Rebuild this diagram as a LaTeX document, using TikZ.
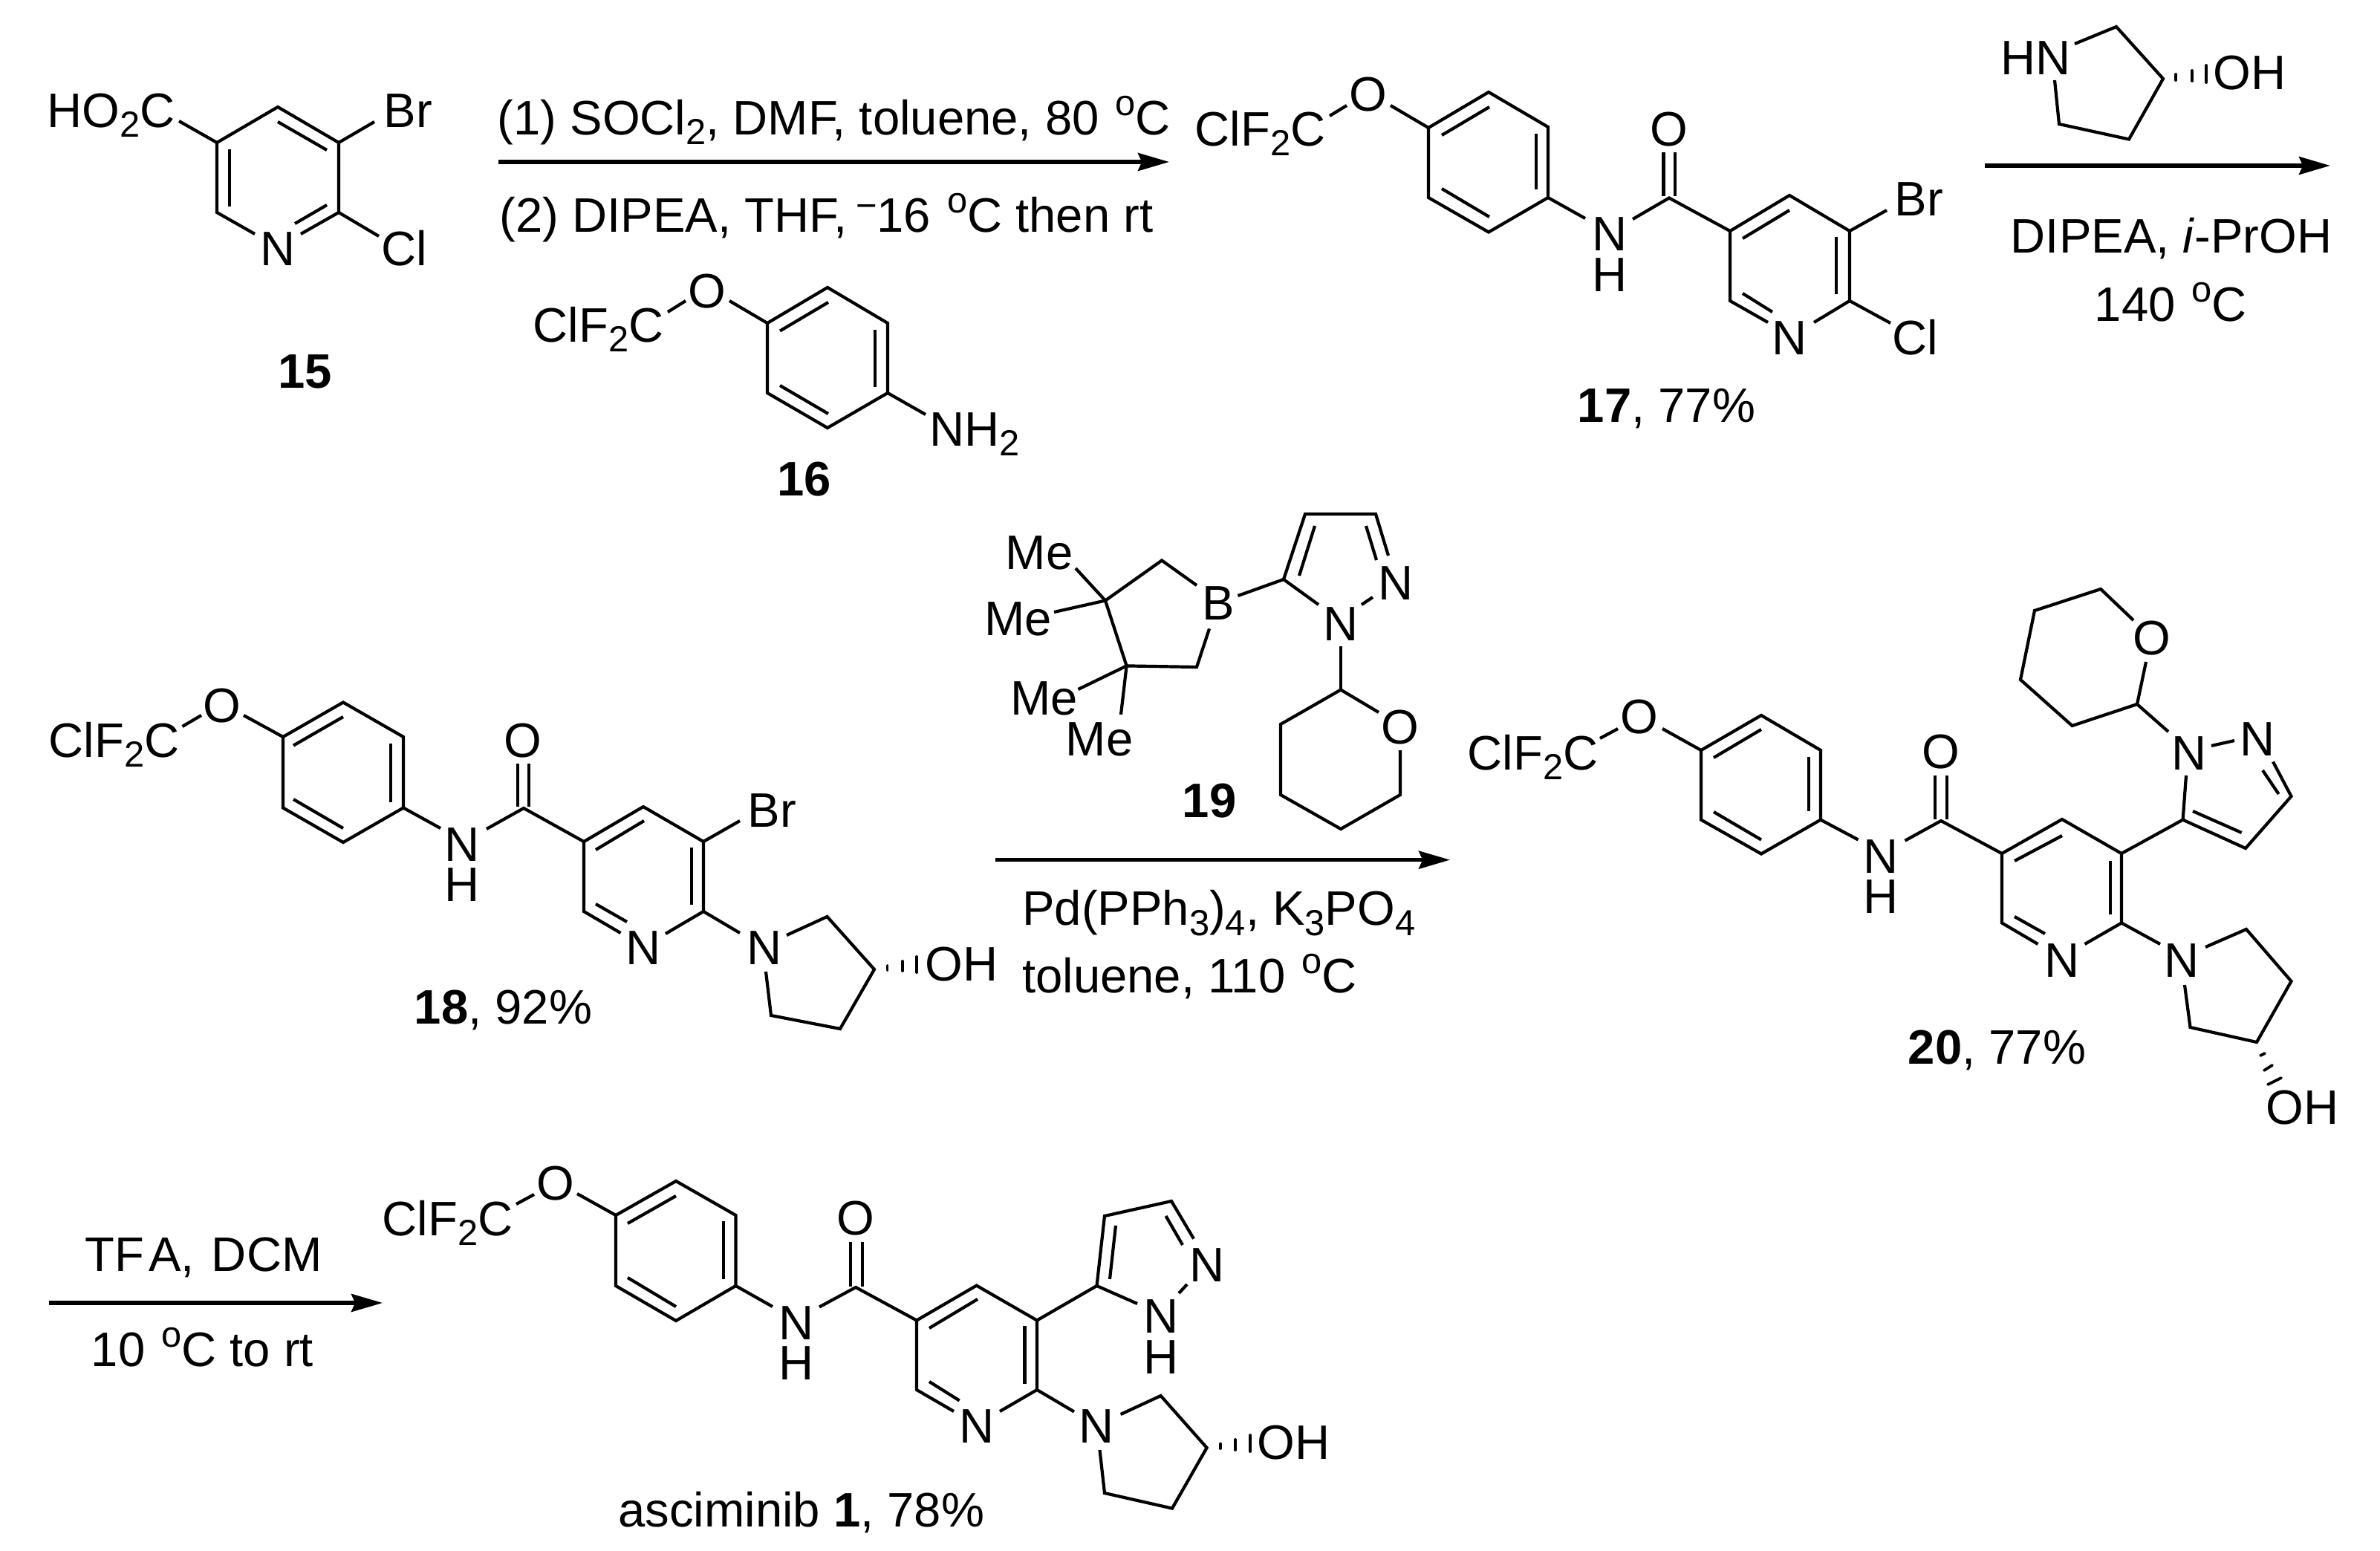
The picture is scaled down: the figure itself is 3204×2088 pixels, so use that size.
\documentclass[tikz,border=0pt]{standalone}
\usepackage{fontspec}
\setmainfont{Liberation Sans}
\usetikzlibrary{arrows.meta}
\newcommand{\sbs}[1]{\raisebox{-3.4pt}{\fontsize{12.2pt}{13pt}\selectfont #1}}
\newcommand{\dgr}{\kern1pt\raisebox{6.5pt}{\fontsize{12.2pt}{13pt}\selectfont o}}
\newcommand{\rminus}{\raisebox{4.7pt}{\fontsize{12.2pt}{13pt}\selectfont −}}
\tikzset{
  bond/.style={line width=1.05pt,line join=miter,line cap=butt},
  hashb/.style={line width=0.95pt,line cap=round},
  rxn/.style={line width=1.3pt,-{Stealth[length=10.5pt,width=6pt,inset=1.3pt]}},
  txtbase/.style={inner sep=0pt,outer sep=0pt,font=\fontsize{16.3pt}{19pt}\selectfont},
  lab/.style={txtbase,anchor=base west,xshift=-0.8pt},
  labc/.style={txtbase,anchor=base},
  cpd/.style={labc,font=\fontsize{16.3pt}{19pt}\selectfont\bfseries}
}
\begin{document}
\begin{tikzpicture}[x=0.25pt,y=-0.25pt]
\fill[white] (0,0) rectangle (3204,2088);
\useasboundingbox (0,0) rectangle (3204,2088);

% ---------- 15 ----------
\path (374,144) coordinate (a1) (456,192) coordinate (a2) (456,286) coordinate (a3)
 (405,315) coordinate (a4) (343,315) coordinate (a5) (292,286) coordinate (a6) (292,192) coordinate (a7)
 (241,163) coordinate (a8) (504,164) coordinate (a9) (510,318) coordinate (a10)
 (374,164) coordinate (a11) (440,202) coordinate (a12) (309,201) coordinate (a13) (309,278) coordinate (a14)
 (397,301) coordinate (a15) (440,276) coordinate (a16);
\draw[bond] (a8)--(a7)--(a1)--(a2)--(a3)--(a4);
\draw[bond] (a5)--(a6)--(a7);
\draw[bond] (a2)--(a9);
\draw[bond] (a3)--(a10);
\draw[bond] (a11)--(a12);
\draw[bond] (a13)--(a14);
\draw[bond] (a15)--(a16);
\node[lab] (t15a) at (67,171) {HO\sbs{2}C};
\node[lab] (t15b) at (520,171) {Br};
\node[labc] (t15c) at (374,357) {N};
\node[lab] (t15d) at (517,357) {Cl};
\node[cpd] (t15e) at (411,522) {15};

% ---------- arrow 1 ----------
\coordinate (r1s) at (671,218); \coordinate (r1e) at (1574,218);
\draw[rxn] (r1s)--(r1e);
\node[lab] (r1a) at (673,181) {(1) SOCl\sbs{2}, DMF, toluene, 80 \dgr C};
\node[lab] (r1b) at (676,312.5) {(2) DIPEA, THF,\kern3pt\rminus 16 \dgr C then rt};

% ---------- 16 ----------
\path (899,420) coordinate (b1) (923,405) coordinate (b2) (982,405) coordinate (b3) (1033,435) coordinate (b4)
 (1114,387) coordinate (b5) (1195,435) coordinate (b6) (1195,529) coordinate (b7) (1114,576) coordinate (b8)
 (1033,529) coordinate (b9) (1246,558) coordinate (b10)
 (1050,445.5) coordinate (b11) (1115,407) coordinate (b12) (1178,444) coordinate (b13) (1178,521) coordinate (b14)
 (1050,519) coordinate (b15) (1115,557) coordinate (b16);
\draw[bond] (b1)--(b2);
\draw[bond] (b3)--(b4);
\draw[bond] (b4)--(b5)--(b6)--(b7)--(b8)--(b9)--cycle;
\draw[bond] (b7)--(b10);
\draw[bond] (b11)--(b12);
\draw[bond] (b13)--(b14);
\draw[bond] (b15)--(b16);
\node[lab] (t16a) at (721,460) {ClF\sbs{2}C};
\node[labc] (t16b) at (951.5,414) {O};
\node[lab] (t16c) at (1255,600) {NH\sbs{2}};
\node[cpd] (t16d) at (1083,667) {16};

% ---------- 17 ----------
\path (1790,156) coordinate (c1) (1813,142) coordinate (c2) (1872,142) coordinate (c3) (1923,172) coordinate (c4)
 (2004,124) coordinate (c5) (2084,171) coordinate (c6) (2084,266) coordinate (c7) (2004,312.5) coordinate (c8)
 (1923,266) coordinate (c9)
 (1941,182) coordinate (c10) (2005,144) coordinate (c11) (2068,180) coordinate (c12) (2068,255) coordinate (c13)
 (1941,254) coordinate (c14) (2005,292) coordinate (c15)
 (2134,294) coordinate (c16) (2198,295) coordinate (c17) (2247,266.5) coordinate (c18)
 (2329,311) coordinate (c19) (2409,263) coordinate (c20) (2490,311) coordinate (c21) (2490,405) coordinate (c22)
 (2442,434) coordinate (c23) (2380,434) coordinate (c24) (2329,405) coordinate (c25)
 (2239.5,205) coordinate (c26) (2239.5,264) coordinate (c27) (2255,205) coordinate (c28) (2255,264) coordinate (c29)
 (2346,321) coordinate (c30) (2409,283) coordinate (c31) (2472,319) coordinate (c32) (2472,396) coordinate (c33)
 (2346,395) coordinate (c34) (2386,420) coordinate (c35) (2540,283) coordinate (c36) (2545,435) coordinate (c37);
\draw[bond] (c1)--(c2);
\draw[bond] (c3)--(c4);
\draw[bond] (c4)--(c5)--(c6)--(c7)--(c8)--(c9)--cycle;
\draw[bond] (c7)--(c16);
\draw[bond] (c17)--(c18)--(c19)--(c20)--(c21)--(c22)--(c23);
\draw[bond] (c24)--(c25)--(c19);
\draw[bond] (c26)--(c27);
\draw[bond] (c28)--(c29);
\draw[bond] (c10)--(c11);
\draw[bond] (c12)--(c13);
\draw[bond] (c14)--(c15);
\draw[bond] (c30)--(c31);
\draw[bond] (c32)--(c33);
\draw[bond] (c34)--(c35);
\draw[bond] (c21)--(c36);
\draw[bond] (c22)--(c37);
\node[lab] (t17a) at (1612,196) {ClF\sbs{2}C};
\node[labc] (t17b) at (1842,149) {O};
\node[labc] (t17c) at (2167,337) {N};
\node[labc] (t17d) at (2167,392) {H};
\node[labc] (t17e) at (2247,196) {O};
\node[lab] (t17f) at (2554,290) {Br};
\node[lab] (t17g) at (2551,477) {Cl};
\node[labc] (t17h) at (2409,477) {N};
\node[lab] (t17i) at (2127,568) {\textbf{17}, 77\%};

% ---------- pyrrolidinol reagent + arrow 2 ----------
\path (2793,59) coordinate (d1) (2849,36) coordinate (d2) (2912,106) coordinate (d3) (2866,187.5) coordinate (d4)
 (2772,167) coordinate (d5) (2766,108) coordinate (d6)
 (2929,100) coordinate (d7) (2929,108) coordinate (d8) (2951,95) coordinate (d9) (2951,109) coordinate (d10)
 (2970,88) coordinate (d11) (2970,111) coordinate (d12);
\draw[bond] (d1)--(d2)--(d3)--(d4)--(d5)--(d6);
\draw[hashb] (d7)--(d8);
\draw[hashb] (d9)--(d10);
\draw[hashb] (d11)--(d12);
\node[lab] (td1) at (2697,100) {HN};
\node[lab] (td2) at (2983,120.5) {OH};
\coordinate (r2s) at (2672,223); \coordinate (r2e) at (3137,223);
\draw[rxn] (r2s)--(r2e);
\node[lab] (r2a) at (2710,340.6) {DIPEA, \textit{i}-PrOH};
\node[lab] (r2b) at (2823,432) {140 \dgr C};

% ---------- 18 ----------
\path (245.5,978) coordinate (e1) (271,963) coordinate (e2) (328,963) coordinate (e3) (381,992) coordinate (e4)
 (462,945.5) coordinate (e5) (543,992) coordinate (e6) (543,1087.5) coordinate (e7) (462,1134) coordinate (e8)
 (381,1087.5) coordinate (e9)
 (395,1003.6) coordinate (e10) (462,965) coordinate (e11) (526,1001) coordinate (e12) (526,1079.5) coordinate (e13)
 (395,1076) coordinate (e14) (462,1115) coordinate (e15)
 (593,1115) coordinate (e16) (655,1116) coordinate (e17) (705,1088) coordinate (e18)
 (786,1133) coordinate (e19) (866,1086) coordinate (e20) (947,1133) coordinate (e21) (947,1227) coordinate (e22)
 (896,1257) coordinate (e23) (835.5,1256) coordinate (e24) (786,1227) coordinate (e25)
 (697,1028) coordinate (e26) (697,1086) coordinate (e27) (712,1028) coordinate (e28) (712,1086) coordinate (e29)
 (802,1144) coordinate (e30) (867,1105) coordinate (e31) (931,1141) coordinate (e32) (931,1218) coordinate (e33)
 (802,1217) coordinate (e34) (844,1241) coordinate (e35) (996,1105) coordinate (e36) (996,1256) coordinate (e37)
 (1059,1259) coordinate (e38) (1113.5,1234) coordinate (e39) (1177,1305) coordinate (e40) (1131,1385) coordinate (e41)
 (1038,1367) coordinate (e42) (1031,1308) coordinate (e43)
 (1194.5,1300) coordinate (e44) (1194.5,1306) coordinate (e45) (1215,1294) coordinate (e46) (1215,1307) coordinate (e47)
 (1234,1288) coordinate (e48) (1234,1309) coordinate (e49);
\draw[bond] (e1)--(e2);
\draw[bond] (e3)--(e4);
\draw[bond] (e4)--(e5)--(e6)--(e7)--(e8)--(e9)--cycle;
\draw[bond] (e7)--(e16);
\draw[bond] (e17)--(e18)--(e19)--(e20)--(e21)--(e22)--(e23);
\draw[bond] (e24)--(e25)--(e19);
\draw[bond] (e26)--(e27);
\draw[bond] (e28)--(e29);
\draw[bond] (e10)--(e11);
\draw[bond] (e12)--(e13);
\draw[bond] (e14)--(e15);
\draw[bond] (e30)--(e31);
\draw[bond] (e32)--(e33);
\draw[bond] (e34)--(e35);
\draw[bond] (e21)--(e36);
\draw[bond] (e22)--(e37);
\draw[bond] (e38)--(e39)--(e40)--(e41)--(e42)--(e43);
\draw[hashb] (e44)--(e45);
\draw[hashb] (e46)--(e47);
\draw[hashb] (e48)--(e49);
\node[lab] (t18a) at (69,1019) {ClF\sbs{2}C};
\node[labc] (t18b) at (298.5,972) {O};
\node[labc] (t18c) at (622.5,1159) {N};
\node[labc] (t18d) at (622.5,1213) {H};
\node[labc] (t18e) at (703.5,1019) {O};
\node[lab] (t18f) at (1010,1113) {Br};
\node[labc] (t18g) at (866,1298) {N};
\node[labc] (t18h) at (1029,1298) {N};
\node[lab] (t18i) at (1249,1320.5) {OH};
\node[lab] (t18j) at (561,1378) {\textbf{18}, 92\%};

% ---------- 19 + arrow 3 ----------
\path (1488,808.5) coordinate (f1) (1516.6,896.4) coordinate (f2) (1564,754.5) coordinate (f3) (1611,788) coordinate (f4)
 (1628,846.4) coordinate (f5) (1611,898) coordinate (f6)
 (1448,765) coordinate (f7) (1419,824) coordinate (f8) (1451.5,928) coordinate (f9) (1509,962) coordinate (f10)
 (1666.5,802) coordinate (f11) (1728,780) coordinate (f12) (1757,692) coordinate (f13) (1852,692) coordinate (f14)
 (1869,748) coordinate (f15) (1839,708) coordinate (f16) (1853,754) coordinate (f17) (1770,708) coordinate (f18)
 (1749,775) coordinate (f19) (1775,814) coordinate (f20) (1833,814) coordinate (f21) (1848,804) coordinate (f22)
 (1805,870) coordinate (f23) (1805,928.6) coordinate (f24) (1856,959) coordinate (f25) (1885,1010) coordinate (f26)
 (1885,1070) coordinate (f27) (1805,1116) coordinate (f28) (1724,1070) coordinate (f29) (1724,975) coordinate (f30);
\draw[bond] (f4)--(f3)--(f1)--(f2)--(f6)--(f5);
\draw[bond] (f1)--(f7);
\draw[bond] (f1)--(f8);
\draw[bond] (f2)--(f9);
\draw[bond] (f2)--(f10);
\draw[bond] (f11)--(f12)--(f20);
\draw[bond] (f12)--(f13)--(f14)--(f15);
\draw[bond] (f16)--(f17);
\draw[bond] (f18)--(f19);
\draw[bond] (f21)--(f22);
\draw[bond] (f23)--(f24);
\draw[bond] (f25)--(f24)--(f30)--(f29)--(f28)--(f27)--(f26);
\node[lab] (t19a) at (1357,766) {Me};
\node[lab] (t19b) at (1328.5,855) {Me};
\node[lab] (t19c) at (1363.5,962) {Me};
\node[lab] (t19d) at (1438,1017) {Me};
\node[labc] (t19e) at (1640,834) {B};
\node[labc] (t19f) at (1805,862) {N};
\node[labc] (t19g) at (1879,807) {N};
\node[labc] (t19h) at (1885,1001) {O};
\node[cpd] (t19i) at (1628,1100) {19};
\coordinate (r3s) at (1340,1157.6); \coordinate (r3e) at (1952,1157.6);
\draw[rxn] (r3s)--(r3e);
\node[lab] (r3a) at (1379.5,1245.5) {Pd(PPh\sbs{3})\sbs{4}, K\sbs{3}PO\sbs{4}};
\node[lab] (r3b) at (1379.5,1336) {toluene, 110 \dgr C};

% ---------- 20 ----------
\path (2154,994) coordinate (g1) (2178,981) coordinate (g2) (2238,981) coordinate (g3) (2290,1010) coordinate (g4)
 (2371,963) coordinate (g5) (2451,1010) coordinate (g6) (2451,1103.6) coordinate (g7) (2371,1149.5) coordinate (g8)
 (2290,1103.6) coordinate (g9)
 (2307,1020) coordinate (g10) (2371,982) coordinate (g11) (2435,1018.6) coordinate (g12) (2435,1091.5) coordinate (g13)
 (2307,1093) coordinate (g14) (2371,1130.5) coordinate (g15)
 (2501.5,1130.5) coordinate (g16) (2564.5,1131.7) coordinate (g17) (2613,1105) coordinate (g18)
 (2695,1149) coordinate (g19) (2776,1103) coordinate (g20) (2856,1149) coordinate (g21) (2856,1242.5) coordinate (g22)
 (2806.5,1271) coordinate (g23) (2743.5,1271) coordinate (g24) (2695,1242.5) coordinate (g25)
 (2605,1044) coordinate (g26) (2605,1103) coordinate (g27) (2620.6,1044) coordinate (g28) (2620.6,1103) coordinate (g29)
 (2712,1159) coordinate (g30) (2776,1125) coordinate (g31) (2841,1159) coordinate (g32) (2841,1231) coordinate (g33)
 (2712,1234) coordinate (g34) (2753,1257) coordinate (g35)
 (2908,1271) coordinate (g36) (2969,1275) coordinate (g37) (3024,1251) coordinate (g38) (3084.5,1321) coordinate (g39)
 (3038,1403) coordinate (g40) (2948.5,1383) coordinate (g41) (2941,1326) coordinate (g42)
 (3043,1421) coordinate (g43) (3049,1418) coordinate (g44) (3048,1441) coordinate (g45) (3059,1434) coordinate (g46)
 (3053,1460) coordinate (g47) (3071,1451) coordinate (g48)
 (2938.6,1103.6) coordinate (g49) (2943,1044) coordinate (g50) (2977,1004) coordinate (g51) (3008,997) coordinate (g52)
 (3060,1025.5) coordinate (g53) (3084.5,1072) coordinate (g54) (3023,1142) coordinate (g55)
 (3046,1037) coordinate (g56) (3067.6,1069) coordinate (g57) (2952,1092) coordinate (g58) (3017.7,1121) coordinate (g59)
 (2877,948) coordinate (g60) (2919,985) coordinate (g61) (2889,891) coordinate (g62) (2872,835) coordinate (g63)
 (2828,793) coordinate (g64) (2739,822) coordinate (g65) (2720,915) coordinate (g66) (2789.6,977) coordinate (g67);
\draw[bond] (g1)--(g2);
\draw[bond] (g3)--(g4);
\draw[bond] (g4)--(g5)--(g6)--(g7)--(g8)--(g9)--cycle;
\draw[bond] (g7)--(g16);
\draw[bond] (g17)--(g18)--(g19)--(g20)--(g21)--(g22)--(g23);
\draw[bond] (g24)--(g25)--(g19);
\draw[bond] (g26)--(g27);
\draw[bond] (g28)--(g29);
\draw[bond] (g10)--(g11);
\draw[bond] (g12)--(g13);
\draw[bond] (g14)--(g15);
\draw[bond] (g30)--(g31);
\draw[bond] (g32)--(g33);
\draw[bond] (g34)--(g35);
\draw[bond] (g22)--(g36);
\draw[bond] (g37)--(g38)--(g39)--(g40)--(g41)--(g42);
\draw[hashb] (g43)--(g44);
\draw[hashb] (g45)--(g46);
\draw[hashb] (g47)--(g48);
\draw[bond] (g21)--(g49)--(g50);
\draw[bond] (g51)--(g52);
\draw[bond] (g53)--(g54)--(g55)--(g49);
\draw[bond] (g56)--(g57);
\draw[bond] (g58)--(g59);
\draw[bond] (g61)--(g60)--(g62);
\draw[bond] (g63)--(g64)--(g65)--(g66)--(g67)--(g60);
\node[lab] (t20a) at (1979,1036) {ClF\sbs{2}C};
\node[labc] (t20b) at (2207,987) {O};
\node[labc] (t20c) at (2532,1175) {N};
\node[labc] (t20d) at (2532,1229) {H};
\node[labc] (t20e) at (2613,1034) {O};
\node[labc] (t20f) at (2776,1315) {N};
\node[labc] (t20g) at (2937,1315) {N};
\node[labc] (t20h) at (2947,1036) {N};
\node[labc] (t20i) at (3039,1017) {N};
\node[labc] (t20j) at (2897,881) {O};
\node[lab] (t20k) at (3054,1513) {OH};
\node[lab] (t20l) at (2572,1432) {\textbf{20}, 77\%};

% ---------- arrow 4 ----------
\coordinate (r4s) at (66,1754); \coordinate (r4e) at (515,1754);
\draw[rxn] (r4s)--(r4e);
\node[lab] (r4a) at (118,1711) {TF\kern1.5pt A, \kern1.2pt DCM};
\node[lab] (r4b) at (126,1839) {10 \dgr C to rt};

% ---------- asciminib 1 ----------
\path (695,1621) coordinate (h1) (719,1608) coordinate (h2) (777,1607) coordinate (h3) (829,1636) coordinate (h4)
 (910,1590) coordinate (h5) (990.5,1636) coordinate (h6) (990.5,1731) coordinate (h7) (910,1778) coordinate (h8)
 (829,1731) coordinate (h9)
 (845,1647) coordinate (h10) (910,1610) coordinate (h11) (974,1644) coordinate (h12) (974,1722) coordinate (h13)
 (845,1720) coordinate (h14) (910,1759) coordinate (h15)
 (1040,1759) coordinate (h16) (1103,1759.5) coordinate (h17) (1152,1733) coordinate (h18)
 (1234,1777.5) coordinate (h19) (1314.6,1730.6) coordinate (h20) (1396,1777.5) coordinate (h21) (1396,1871) coordinate (h22)
 (1346,1900) coordinate (h23) (1284,1900) coordinate (h24) (1234,1871) coordinate (h25)
 (1145,1672) coordinate (h26) (1145,1732) coordinate (h27) (1161,1672) coordinate (h28) (1161,1732) coordinate (h29)
 (1251,1788) coordinate (h30) (1316,1749) coordinate (h31) (1379.5,1785) coordinate (h32) (1379.5,1863) coordinate (h33)
 (1251,1860) coordinate (h34) (1291.6,1885.5) coordinate (h35)
 (1446,1900.5) coordinate (h36) (1508.6,1904) coordinate (h37) (1562.6,1879) coordinate (h38) (1624.6,1949) coordinate (h39)
 (1578,2030.6) coordinate (h40) (1487,2010) coordinate (h41) (1480.5,1952) coordinate (h42)
 (1643,1943.6) coordinate (h43) (1643,1950) coordinate (h44) (1663,1938) coordinate (h45) (1663,1952) coordinate (h46)
 (1683,1932) coordinate (h47) (1683,1954) coordinate (h48)
 (1476.5,1731) coordinate (h49) (1487,1637) coordinate (h50) (1577,1617) coordinate (h51) (1607,1667.6) coordinate (h52)
 (1502,1650) coordinate (h53) (1494,1722) coordinate (h54) (1569.5,1637) coordinate (h55) (1592,1676) coordinate (h56)
 (1598,1729) coordinate (h57) (1587,1741) coordinate (h58) (1531,1755) coordinate (h59);
\draw[bond] (h1)--(h2);
\draw[bond] (h3)--(h4);
\draw[bond] (h4)--(h5)--(h6)--(h7)--(h8)--(h9)--cycle;
\draw[bond] (h7)--(h16);
\draw[bond] (h17)--(h18)--(h19)--(h20)--(h21)--(h22)--(h23);
\draw[bond] (h24)--(h25)--(h19);
\draw[bond] (h26)--(h27);
\draw[bond] (h28)--(h29);
\draw[bond] (h10)--(h11);
\draw[bond] (h12)--(h13);
\draw[bond] (h14)--(h15);
\draw[bond] (h30)--(h31);
\draw[bond] (h32)--(h33);
\draw[bond] (h34)--(h35);
\draw[bond] (h22)--(h36);
\draw[bond] (h37)--(h38)--(h39)--(h40)--(h41)--(h42);
\draw[hashb] (h43)--(h44);
\draw[hashb] (h45)--(h46);
\draw[hashb] (h47)--(h48);
\draw[bond] (h21)--(h49)--(h50)--(h51)--(h52);
\draw[bond] (h49)--(h59);
\draw[bond] (h53)--(h54);
\draw[bond] (h55)--(h56);
\draw[bond] (h57)--(h58);
\node[lab] (t1a) at (518,1663) {ClF\sbs{2}C};
\node[labc] (t1b) at (747.5,1615) {O};
\node[labc] (t1c) at (1072,1803) {N};
\node[labc] (t1d) at (1072,1857) {H};
\node[labc] (t1e) at (1152,1662) {O};
\node[labc] (t1f) at (1314.6,1942.5) {N};
\node[labc] (t1g) at (1476.5,1942.5) {N};
\node[labc] (t1h) at (1624.6,1725) {N};
\node[labc] (t1i) at (1562.6,1794) {N};
\node[labc] (t1j) at (1562.6,1849) {H};
\node[lab] (t1k) at (1696,1964) {OH};
\node[lab] (t1l) at (835.5,2055) {asciminib \textbf{1}, 78\%};
\end{tikzpicture}
\end{document}
